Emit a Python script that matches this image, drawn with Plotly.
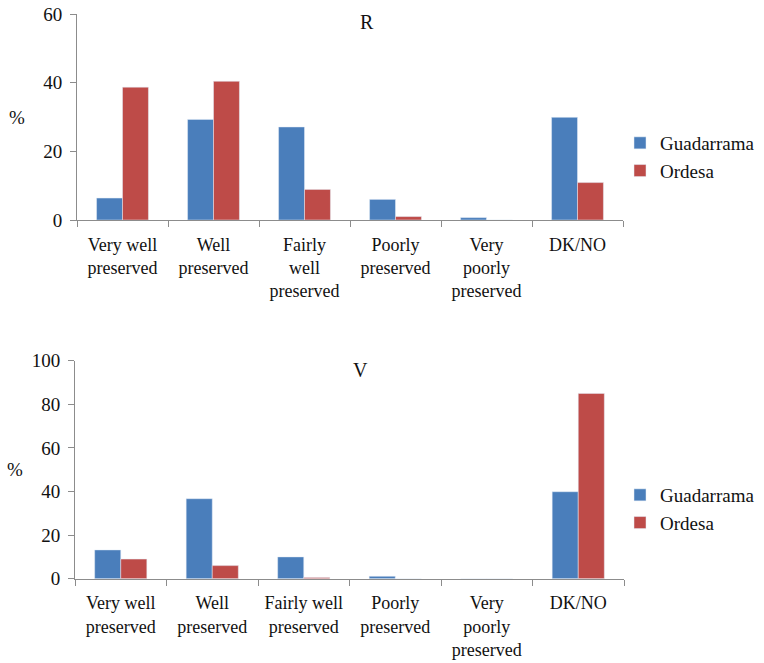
import plotly.graph_objects as go

# ---- data ----
cats_R = ["Very well<br>preserved", "Well<br>preserved", "Fairly<br>well<br>preserved",
          "Poorly<br>preserved", "Very<br>poorly<br>preserved", "DK/NO"]
cats_V = ["Very well<br>preserved", "Well<br>preserved", "Fairly well<br>preserved",
          "Poorly<br>preserved", "Very<br>poorly<br>preserved", "DK/NO"]
R_guadarrama = [6.4, 29.3, 27.1, 6.0, 0.7, 29.9]
R_ordesa = [38.7, 40.4, 8.9, 1.0, 0.0, 10.9]
V_guadarrama = [13.2, 36.7, 10.0, 1.1, 0.0, 39.9]
V_ordesa = [9.0, 6.0, 0.6, 0.0, 0.0, 85.0]
series_names = ["Guadarrama", "Ordesa"]

W, H = 764, 663
BLUE = "#4A7EBB"
RED = "#BE4B48"
FONT = "Liberation Serif, Times New Roman, DejaVu Serif, serif"
TXT = "#111111"
AX = "#8c8c8c"

def px_x(x):
    return x / W

def px_y(y):
    return 1 - y / H

fig = go.Figure()
fig.add_trace(go.Bar(x=cats_R, y=R_guadarrama, name=series_names[0], marker_color=BLUE,
                     xaxis="x", yaxis="y", legend="legend"))
fig.add_trace(go.Bar(x=cats_R, y=R_ordesa, name=series_names[1], marker_color=RED,
                     xaxis="x", yaxis="y", legend="legend"))
fig.add_trace(go.Bar(x=cats_V, y=V_guadarrama, name=series_names[0], marker_color=BLUE,
                     xaxis="x2", yaxis="y2", legend="legend2"))
fig.add_trace(go.Bar(x=cats_V, y=V_ordesa, name=series_names[1], marker_color=RED,
                     xaxis="x2", yaxis="y2", legend="legend2"))

xcommon = dict(showline=True, linecolor=AX, linewidth=1, ticks="outside", ticklen=6,
               tickcolor=AX, tickson="boundaries", showgrid=False, tickangle=0,
               tickfont=dict(family=FONT, size=18, color=TXT), fixedrange=True,
               automargin=False, ticklabelstandoff=8)
ycommon = dict(showline=True, linecolor=AX, linewidth=1, ticks="outside", ticklen=6,
               tickcolor=AX, showgrid=False, zeroline=False, dtick=20,
               tickfont=dict(family=FONT, size=19, color=TXT), ticklabelstandoff=4,
               automargin=False, ticklabeloverflow="allow")

legcommon = dict(xanchor="left", yanchor="top",
                 font=dict(family=FONT, size=19, color=TXT), bgcolor="rgba(0,0,0,0)",
                 itemwidth=30, tracegroupgap=0)

fig.update_layout(
    width=W, height=H, margin=dict(l=0, r=0, t=0, b=0, autoexpand=False),
    paper_bgcolor="white", plot_bgcolor="white",
    barmode="group", bargap=0.43, bargroupgap=0,
    font=dict(family=FONT, color=TXT),
    xaxis=dict(domain=[px_x(77), px_x(623)], anchor="y", **xcommon),
    yaxis=dict(domain=[px_y(220), px_y(14)], anchor="x", range=[0, 60], **ycommon),
    xaxis2=dict(domain=[px_x(75), px_x(624)], anchor="y2", **xcommon),
    yaxis2=dict(domain=[px_y(578.7), px_y(360.7)], anchor="x2", range=[0, 100], **ycommon),
    legend=dict(x=px_x(620), y=px_y(124), **legcommon),
    legend2=dict(x=px_x(620), y=px_y(476), **legcommon),
    showlegend=True,
)

annots = [
    ("R", 367, 22, 20),
    ("V", 360, 370, 20),
    ("%", 17, 117, 19),
    ("%", 15, 469, 19),
]
for text, x, y, s in annots:
    fig.add_annotation(text=text, x=px_x(x), y=px_y(y), xref="paper", yref="paper",
                       showarrow=False, xanchor="center", yanchor="middle",
                       font=dict(family=FONT, size=s, color=TXT))

fig.write_html("out.html", config={"displayModeBar": False},
               post_script="document.body.style.margin='0';")
